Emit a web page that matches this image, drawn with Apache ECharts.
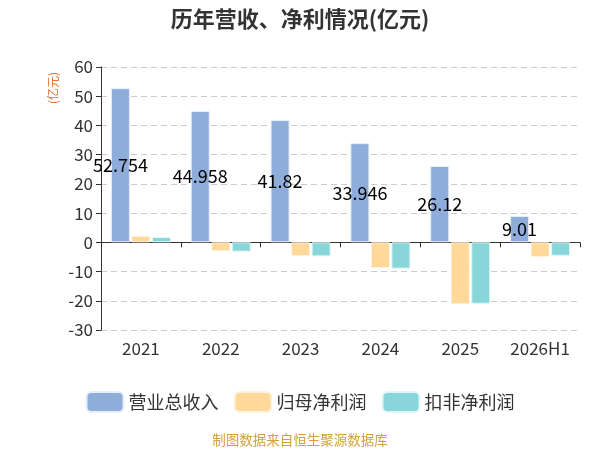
<!DOCTYPE html>
<html>
<head>
<meta charset="utf-8">
<script src="https://cdn.jsdelivr.net/npm/echarts@6/dist/echarts.min.js"></script>
<style>
  html, body { margin: 0; padding: 0; background: #fff; }
  #main { width: 600px; height: 450px; }
</style>
</head>
<body>
<div id="main"></div>
<script>
var years = ['2021', '2022', '2023', '2024', '2025', '2026H1'];
var revenue = [52.754, 44.958, 41.82, 33.946, 26.12, 9.01];
var netProfit = [2.2, -3.0, -4.7, -8.8, -21.2, -5.0];
var netProfitDeducted = [1.8, -3.2, -4.8, -9.0, -21.0, -4.6];

function drawChart () {

  var chartDom = document.getElementById('main');
  var myChart = echarts.init(chartDom);
  var option;

  option = {
    textStyle: { fontFamily: 'Noto Sans CJK SC' },
    title: {
      text: '历年营收、净利情况(亿元)',
      left: 'center',
      top: 3,
      textStyle: { fontSize: 22, fontWeight: 'bold', color: '#333', fontFamily: 'Noto Sans CJK SC' }
    },
    legend: {
      bottom: 32,
      itemWidth: 37,
      itemHeight: 20,
      itemGap: 15,
      textStyle: { fontSize: 18, color: '#333' },
      data: ['营业总收入', '归母净利润', '扣非净利润']
    },
    graphic: [
      {
        type: 'text',
        left: 'center',
        top: 433,
        style: { text: '制图数据来自恒生聚源数据库', fill: '#D4A03C', fontSize: 13.5, fontFamily: 'Noto Sans CJK SC' }
      },
      {
        type: 'text',
        x: 47,
        y: 104,
        rotation: Math.PI / 2,
        style: { text: '(亿元)', fill: '#E0733A', fontSize: 12, fontFamily: 'Noto Sans CJK SC', textAlign: 'left', textVerticalAlign: 'top' }
      }
    ],
    grid: { left: 101, right: 20, top: 67, bottom: 120 },
    xAxis: {
      type: 'category',
      data: years,
      axisLine: { lineStyle: { color: '#333' } },
      axisTick: { show: true, lineStyle: { color: '#333' } },
      axisLabel: { fontSize: 17, color: '#333', margin: 10 }
    },
    yAxis: {
      type: 'value',
      min: -30,
      max: 60,
      interval: 10,
      axisLine: { show: true, lineStyle: { color: '#333' } },
      axisTick: { show: true, lineStyle: { color: '#333' } },
      axisLabel: { fontSize: 17, color: '#333' },
      splitLine: { lineStyle: { type: [6, 4], color: '#ccc' } }
    },
    series: [
      {
        name: '营业总收入',
        type: 'bar',
        barWidth: 19,
        barGap: '8%',
        data: revenue,
        itemStyle: { color: '#8EADDB', borderColor: '#E6EEF8', borderWidth: 1 },
        label: { show: true, position: 'inside', color: '#000', fontSize: 18 }
      },
      {
        name: '归母净利润',
        type: 'bar',
        barWidth: 19,
        barGap: '8%',
        data: netProfit,
        itemStyle: { color: '#FFD99A', borderColor: '#FFF3E0', borderWidth: 1 }
      },
      {
        name: '扣非净利润',
        type: 'bar',
        barWidth: 19,
        barGap: '8%',
        data: netProfitDeducted,
        itemStyle: { color: '#88D6D9', borderColor: '#E3F6F7', borderWidth: 1 }
      }
    ]
  };

  option && myChart.setOption(option);

}

drawChart()
</script>
</body>
</html>
